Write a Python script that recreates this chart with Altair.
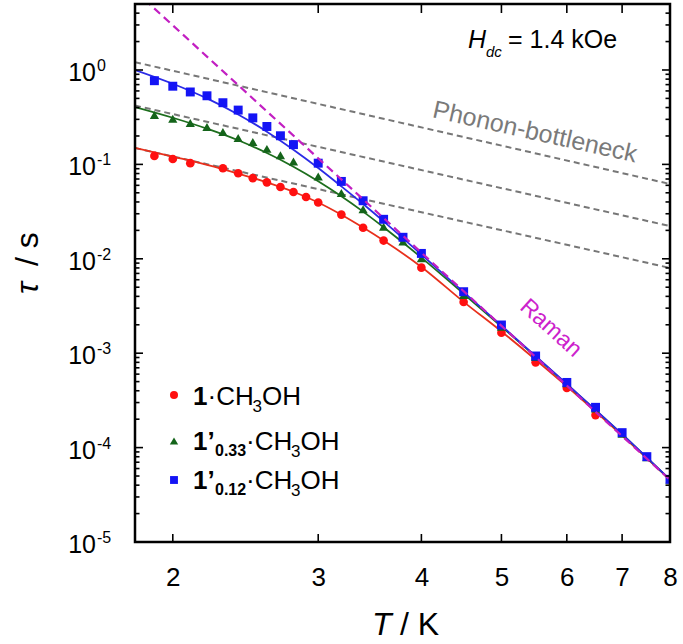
import altair as alt
import pandas as pd

FONT = "Liberation Sans"
W, H = 535, 538

# ---------------- data ----------------
T_red = [1.9, 2.0, 2.1, 2.3, 2.4, 2.5, 2.6, 2.7, 2.8, 2.9, 3.0, 3.2, 3.4, 3.6, 4.0, 4.5, 5.0, 5.5, 6.0, 6.5]
tau_red = [0.123, 0.114, 0.103, 0.091, 0.0806, 0.0715, 0.0645, 0.0576, 0.051, 0.0451, 0.0395, 0.0294,
           0.0213, 0.0156, 0.00805, 0.00349, 0.00165, 0.00080, 0.000428, 0.000221]

T_grn = [1.9, 2.0, 2.1, 2.2, 2.3, 2.4, 2.5, 2.6, 2.7, 2.8, 3.0, 3.2, 3.4, 3.6, 3.8, 4.0, 4.5,
         5.0, 5.5, 6.0, 6.5, 7.0, 7.5, 8.0]
tau_grn = [0.333, 0.304, 0.275, 0.249, 0.22, 0.19, 0.173, 0.146, 0.125, 0.107, 0.0745, 0.0498, 0.0334,
           0.0219, 0.0152, 0.0101, 0.00414, 0.0019, 0.00091, 0.00048, 0.00026, 0.00014, 0.000079, 0.000046]

T_blu = [1.9, 2.0, 2.1, 2.2, 2.3, 2.4, 2.5, 2.6, 2.7, 2.8, 3.0, 3.2, 3.4, 3.6, 3.8, 4.0, 4.5,
         5.0, 5.5, 6.0, 6.5, 7.0, 7.5, 8.0]
tau_blu = [0.77, 0.673, 0.585, 0.533, 0.45, 0.376, 0.311, 0.252, 0.201, 0.162, 0.103, 0.066, 0.0412,
           0.0262, 0.0169, 0.0114, 0.00448, 0.00199, 0.000934, 0.00049, 0.000267, 0.000144, 0.0000802, 0.0000461]

# fitted curves
T_fit = [1.8, 2.0, 2.2, 2.4, 2.6, 2.8, 3.0, 3.2, 3.4, 3.6, 4.0, 4.5, 5.0, 6.0, 7.0, 8.0]
fit_blu = [1.00, 0.715, 0.50, 0.338, 0.222, 0.143, 0.0915, 0.0585, 0.038, 0.0249, 0.0111, 0.00444,
           0.00196, 0.000472, 0.000139, 0.0000458]
fit_grn = [0.405, 0.312, 0.239, 0.18, 0.132, 0.0946, 0.0664, 0.046, 0.0316, 0.0216, 0.0103, 0.00426,
           0.00192, 0.000468, 0.000138, 0.0000457]
fit_red = [0.150, 0.121, 0.099, 0.080, 0.0645, 0.0513, 0.0395, 0.0293, 0.0214, 0.0156, 0.0082, 0.0035,
           0.00170, 0.000445, 0.000134, 0.0000455]

# phonon-bottleneck (gray dashed) and Raman (magenta dashed) straight lines
T_line = [1.8, 8.0]
pb_top = [1.21, 0.062]
pb_mid = [0.42, 0.0222]
pb_bot = [0.149, 0.0080]
raman = [6.9, 0.0000455]

# axis ticks
x_ticks = [2, 3, 4, 5, 6, 7, 8]
y_major = [1e-5, 1e-4, 1e-3, 1e-2, 1e-1, 1e0]
y_exp = ["-5", "-4", "-3", "-2", "-1", "0"]
y_minor = [m * d for d in [1e-5, 1e-4, 1e-3, 1e-2, 1e-1] for m in range(2, 10)] + [2.0, 3.0, 4.0]

# ---------------- scales / encodings ----------------
xs = alt.Scale(type="log", domain=[1.8, 8], nice=False)
ys = alt.Scale(type="log", domain=[1e-5, 5], nice=False)
x_axis = alt.Axis(values=x_ticks, format="d", labelFontSize=26, labelPadding=22, ticks=False,
                  domain=False, grid=False, labelFlush=False, labelOverlap=False, title="",
                  labelFont=FONT, labelColor="black")


def X(f):
    return alt.X(f, type="quantitative", scale=xs, axis=x_axis)


def Y(f):
    return alt.Y(f, type="quantitative", scale=ys, axis=None)


pts = lambda T, v: pd.DataFrame({"T": T, "tau": v})

one = pd.DataFrame({"a": [0]})


def txt(s, x, y, size, bold=False, italic=False, color="black", align="left", angle=0, baseline="alphabetic"):
    return alt.Chart(one).mark_text(
        text=s, fontSize=size, fontWeight="bold" if bold else "normal",
        fontStyle="italic" if italic else "normal", color=color, align=align,
        baseline=baseline, angle=angle, font=FONT
    ).encode(x=alt.value(x), y=alt.value(y))


layers = []

# gray dashed phonon-bottleneck lines
pb_df = pd.concat([
    pd.DataFrame({"T": T_line, "tau": pb_top, "s": "a"}),
    pd.DataFrame({"T": T_line, "tau": pb_mid, "s": "b"}),
    pd.DataFrame({"T": T_line, "tau": pb_bot, "s": "c"}),
])
layers.append(alt.Chart(pb_df).mark_line(color="#777777", strokeWidth=2, strokeDash=[6, 4], clip=True)
              .encode(x=X("T"), y=Y("tau"), detail="s:N"))

# fitted solid lines
for vals, col in [(fit_red, "#e8301c"), (fit_grn, "#1d6e1d"), (fit_blu, "#2b2be6")]:
    layers.append(alt.Chart(pts(T_fit, vals)).mark_line(color=col, strokeWidth=1.8, interpolate="monotone", clip=True)
                  .encode(x=X("T"), y=Y("tau")))

# data points
layers.append(alt.Chart(pts(T_red, tau_red)).mark_point(shape="circle", filled=True, size=75, color="#ff1010", opacity=1, clip=True)
              .encode(x=X("T"), y=Y("tau")))
layers.append(alt.Chart(pts(T_grn, tau_grn)).mark_point(shape="triangle-up", filled=True, size=85, color="#14641a", opacity=1, clip=True)
              .encode(x=X("T"), y=Y("tau")))
layers.append(alt.Chart(pts(T_blu, tau_blu)).mark_point(shape="square", filled=True, size=80, color="#1414f5", opacity=1, clip=True)
              .encode(x=X("T"), y=Y("tau")))

# Raman dashed line
layers.append(alt.Chart(pts(T_line, raman)).mark_line(color="#c21fc2", strokeWidth=2.2, strokeDash=[8, 5], clip=True)
              .encode(x=X("T"), y=Y("tau")))

# ticks (inward)
ymaj = pd.DataFrame({"v": y_major, "e": y_exp})
ymin = pd.DataFrame({"v": y_minor})
xt = pd.DataFrame({"v": x_ticks})
tick_style = dict(color="black", strokeWidth=1.6)
layers.append(alt.Chart(ymaj).mark_rule(**tick_style).encode(y=Y("v"), x=alt.value(0), x2=alt.value(8)))
layers.append(alt.Chart(ymaj).mark_rule(**tick_style).encode(y=Y("v"), x=alt.value(W - 8), x2=alt.value(W)))
layers.append(alt.Chart(ymin).mark_rule(**tick_style).encode(y=Y("v"), x=alt.value(0), x2=alt.value(4.5)))
layers.append(alt.Chart(ymin).mark_rule(**tick_style).encode(y=Y("v"), x=alt.value(W - 4.5), x2=alt.value(W)))
layers.append(alt.Chart(xt).mark_rule(**tick_style).encode(x=X("v"), y=alt.value(H - 8), y2=alt.value(H)))
layers.append(alt.Chart(xt).mark_rule(**tick_style).encode(x=X("v"), y=alt.value(0), y2=alt.value(9)))

# frame
layers.append(alt.Chart(one).mark_rect(fill=None, stroke="black", strokeWidth=2.5, fillOpacity=0)
              .encode(x=alt.value(0), x2=alt.value(W), y=alt.value(0), y2=alt.value(H)))

# y tick labels 10^n
layers.append(alt.Chart(ymaj).mark_text(text="10", fontSize=25, align="right", baseline="alphabetic", dy=11, font=FONT, color="black")
              .encode(y=Y("v"), x=alt.value(-39)))
layers.append(alt.Chart(ymaj).mark_text(fontSize=16, align="left", baseline="alphabetic", dy=1, font=FONT, color="black")
              .encode(y=Y("v"), x=alt.value(-38), text="e:N"))

# axis titles
layers.append(txt("T", 237, 631, 32, italic=True))
layers.append(txt("/ K", 265, 631, 32))
layers.append(txt("τ", -97, 290, 32, italic=True, angle=270))
layers.append(txt("/ s", -97, 262, 32, angle=270))

# annotations
layers.append(txt("H", 333, 44, 25, italic=True))
layers.append(txt("dc", 351, 53, 15, italic=True))
layers.append(txt("= 1.4 kOe", 373, 44, 25))
layers.append(txt("Phonon-bottleneck", 400, 128, 25, color="#7a7a7a", align="center", angle=12.6, baseline="middle"))
layers.append(txt("Raman", 416, 324, 23, color="#cc22cc", align="center", angle=42, baseline="middle"))

# legend
leg_rows = [(391, "#ff1010", "circle", 65), (437, "#14641a", "triangle-up", 70), (476, "#1414f5", "square", 62)]
for my, col, shp, sz in leg_rows:
    layers.append(alt.Chart(one).mark_point(shape=shp, filled=True, size=sz, color=col, opacity=1)
                  .encode(x=alt.value(39), y=alt.value(my)))
layers.append(txt("1", 58, 401, 26, bold=True))
layers.append(txt("·CH", 72.5, 401, 26))
layers.append(txt("3", 117.5, 408, 17))
layers.append(txt("OH", 127, 401, 26))
for by, sub in [(446, "0.33"), (485, "0.12")]:
    layers.append(txt("1’", 58, by, 26, bold=True))
    layers.append(txt(sub, 80, by + 6, 16, bold=True))
    layers.append(txt("·CH", 111, by, 26))
    layers.append(txt("3", 156, by + 7, 17))
    layers.append(txt("OH", 165.5, by, 26))

chart = alt.layer(*layers).properties(
    width=W, height=H,
    background="white",
    autosize=alt.AutoSizeParams(type="none"),
    padding={"left": 135, "top": 4, "right": 13, "bottom": 102},
).configure_view(stroke=None)

chart.save("out.html", embed_options={"renderer": "svg", "actions": False})
